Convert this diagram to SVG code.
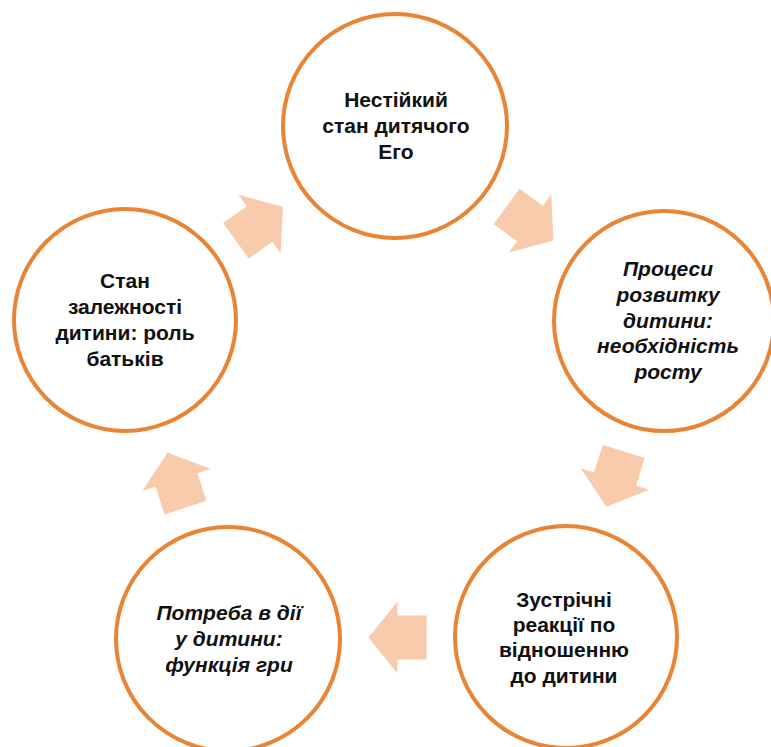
<svg xmlns="http://www.w3.org/2000/svg" xmlns:xlink="http://www.w3.org/1999/xlink" width="771" height="747" viewBox="0 0 771 747">
  <style>
    .node { fill: #FFFFFF; stroke: #EA8435; stroke-width: 4; }
    .arrow { fill: #F8CBAD; stroke: none; }
    .lbl { font-family: "Liberation Sans", Arial, sans-serif; font-size: 21px; font-weight: bold; fill: #111111; text-anchor: middle; }
    .it { font-style: italic; }
  </style>
  <defs>
    <path id="blockArrow" d="M-29,-22 H0 V-36 L29,0 L0,36 V22 H-29 Z"/>
  </defs>
  <rect x="0" y="0" width="771" height="747" fill="#FFFFFF"/>

  <g id="connectors">
    <use xlink:href="#blockArrow" href="#blockArrow" class="arrow" transform="translate(530,223.5) rotate(36)"/>
    <use xlink:href="#blockArrow" href="#blockArrow" class="arrow" transform="translate(615,479) rotate(107.5)"/>
    <use xlink:href="#blockArrow" href="#blockArrow" class="arrow" transform="translate(397.5,637.5) rotate(180)"/>
    <use xlink:href="#blockArrow" href="#blockArrow" class="arrow" transform="translate(176.5,480) rotate(-108)"/>
    <use xlink:href="#blockArrow" href="#blockArrow" class="arrow" transform="translate(259.5,224) rotate(-35.8)"/>
  </g>

  <g id="node-top">
    <circle class="node" cx="395" cy="126" r="112"/>
    <text class="lbl" x="396" y="107">Нестійкий</text>
    <text class="lbl" x="396" y="133">стан дитячого</text>
    <text class="lbl" x="396" y="159">Его</text>
  </g>

  <g id="node-right">
    <circle class="node" cx="664" cy="321" r="110"/>
    <text class="lbl it" x="668" y="276">Процеси</text>
    <text class="lbl it" x="668" y="302">розвитку</text>
    <text class="lbl it" x="668" y="328">дитини:</text>
    <text class="lbl it" x="668" y="353">необхідність</text>
    <text class="lbl it" x="668" y="379">росту</text>
  </g>

  <g id="node-bottom-right">
    <circle class="node" cx="566" cy="637" r="111"/>
    <text class="lbl" x="564" y="607">Зустрічні</text>
    <text class="lbl" x="564" y="632">реакції по</text>
    <text class="lbl" x="564" y="657">відношенню</text>
    <text class="lbl" x="564" y="683">до дитини</text>
  </g>

  <g id="node-bottom-left">
    <circle class="node" cx="228" cy="639" r="112"/>
    <text class="lbl it" x="229" y="620">Потреба в дії</text>
    <text class="lbl it" x="229" y="646">у дитини:</text>
    <text class="lbl it" x="229" y="672">функція гри</text>
  </g>

  <g id="node-left">
    <circle class="node" cx="125" cy="320" r="111"/>
    <text class="lbl" x="125" y="288">Стан</text>
    <text class="lbl" x="125" y="314">залежності</text>
    <text class="lbl" x="125" y="340">дитини: роль</text>
    <text class="lbl" x="125" y="366">батьків</text>
  </g>
</svg>
